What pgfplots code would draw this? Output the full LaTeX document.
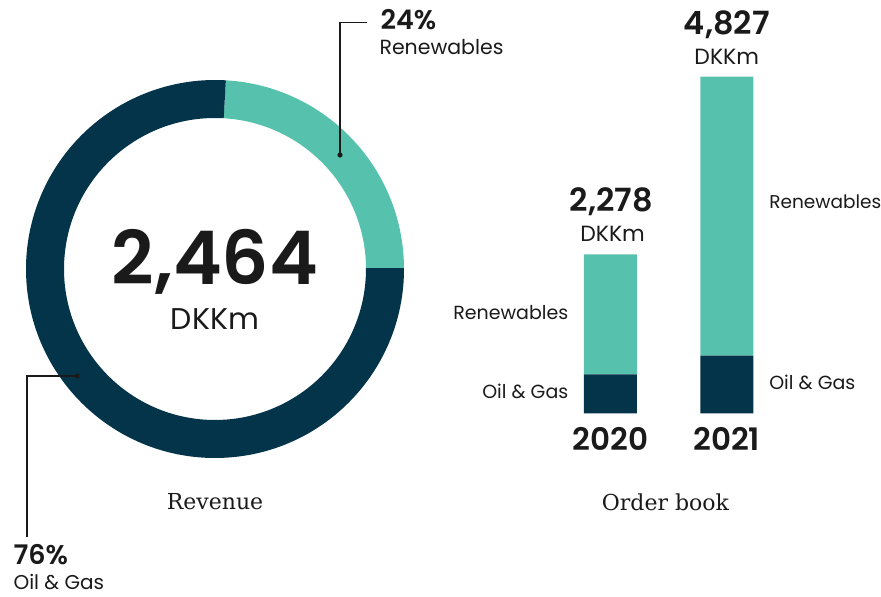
\documentclass[border=0pt]{standalone}
\usepackage{pgfplots}
\pgfplotsset{compat=1.18}
\usepackage{fontspec}
\setmainfont{Poppins}[BoldFont=Poppins SemiBold]
\newfontfamily\slab{DejaVu Serif}
\definecolor{oilgas}{HTML}{03344A}
\definecolor{renew}{HTML}{56C2AD}
\definecolor{ink}{HTML}{1A1A1A}
\newcommand\fs[1]{\fontsize{#1}{#1}\selectfont}

% revenue shares (%)
\def\shareRenew{24}
\def\shareOil{76}
\pgfmathsetmacro\aStart{86.7}
\pgfmathsetmacro\aMid{\aStart-\shareRenew*3.6}
\pgfmathsetmacro\aStop{\aMid-\shareOil*3.6}

\begin{document}
\begin{tikzpicture}[every node/.style={text=ink}]
\useasboundingbox (0,0) rectangle (881pt,597pt);

% revenue donut
\begin{axis}[at={(215pt,328pt)},anchor=center,scale only axis,
  width=400pt,height=400pt,xmin=-200,xmax=200,ymin=-200,ymax=200,
  hide axis,clip=false]
\fill[renew] ([shift={(axis cs:0,0)}]\aStart:189pt)
  arc[start angle=\aStart,end angle=\aMid,radius=189pt]
  -- ([shift={(axis cs:0,0)}]\aMid:151pt)
  arc[start angle=\aMid,end angle=\aStart,radius=151pt] -- cycle;
\fill[oilgas] ([shift={(axis cs:0,0)}]\aMid:189pt)
  arc[start angle=\aMid,end angle=\aStop,radius=189pt]
  -- ([shift={(axis cs:0,0)}]\aStop:151pt)
  arc[start angle=\aStop,end angle=\aMid,radius=151pt] -- cycle;
\node[anchor=base,font=\bfseries\fs{74}] at (axis cs:0,-16) {2,464};
\node[anchor=base,font=\fs{30}] at (axis cs:0,-61) {DKKm};
\node[anchor=base,font=\slab\fs{22}] at (axis cs:0,-241) {Revenue};
\end{axis}

% order book bars
\begin{axis}[at={(552pt,183.5pt)},anchor=south west,scale only axis,
  width=233pt,height=349pt,xmin=-0.5,xmax=1.5,ymin=0,ymax=5000,
  hide axis,clip=false,ybar stacked,bar width=53pt]
\addplot[fill=oilgas,draw=none] coordinates {(0,560) (1,830)};
\addplot[fill=renew,draw=none] coordinates {(0,1718) (1,3997)};
\node[anchor=base,font=\bfseries\fs{32}] at (axis cs:0.01,2901) {2,278};
\node[anchor=base,font=\fs{22}] at (axis cs:0.02,2471) {DKKm};
\node[anchor=base,font=\bfseries\fs{32}] at (axis cs:1,5423) {4,827};
\node[anchor=base,font=\fs{22}] at (axis cs:1,5007) {DKKm};
\node[anchor=base east,font=\fs{19}] at (axis cs:-0.33,1340) {Renewables};
\node[anchor=base east,font=\fs{19}] at (axis cs:-0.33,222) {Oil \& Gas};
\node[anchor=base west,font=\fs{18.5}] at (axis cs:1.335,2944) {Renewables};
\node[anchor=base west,font=\fs{19}] at (axis cs:1.335,337) {Oil \& Gas};
\node[anchor=base,font=\bfseries\fs{31}] at (axis cs:0,-524) {2020};
\node[anchor=base,font=\bfseries\fs{31}] at (axis cs:1,-524) {2021};
\node[anchor=base,font=\slab\fs{22}] at (axis cs:0.474,-1383) {Order book};
\end{axis}

% leader lines
\draw[line width=1.3pt,ink] (340pt,442pt) -- (340pt,574.7pt) -- (366.7pt,574.7pt);
\fill[ink] (340pt,442pt) circle (2.6pt);
\draw[line width=1.3pt,ink] (77pt,221pt) -- (27pt,221pt) -- (27pt,60pt);
\fill[ink] (77pt,221pt) circle (2.6pt);
\node[anchor=base west,font=\bfseries\fs{27}] at (377pt,567.7pt) {24\%};
\node[anchor=base west,font=\fs{20.5}] at (376pt,542pt) {Renewables};
\node[anchor=base west,font=\bfseries\fs{27}] at (10pt,32pt) {76\%};
\node[anchor=base west,font=\fs{20}] at (10pt,7pt) {Oil \& Gas};
\end{tikzpicture}
\end{document}
